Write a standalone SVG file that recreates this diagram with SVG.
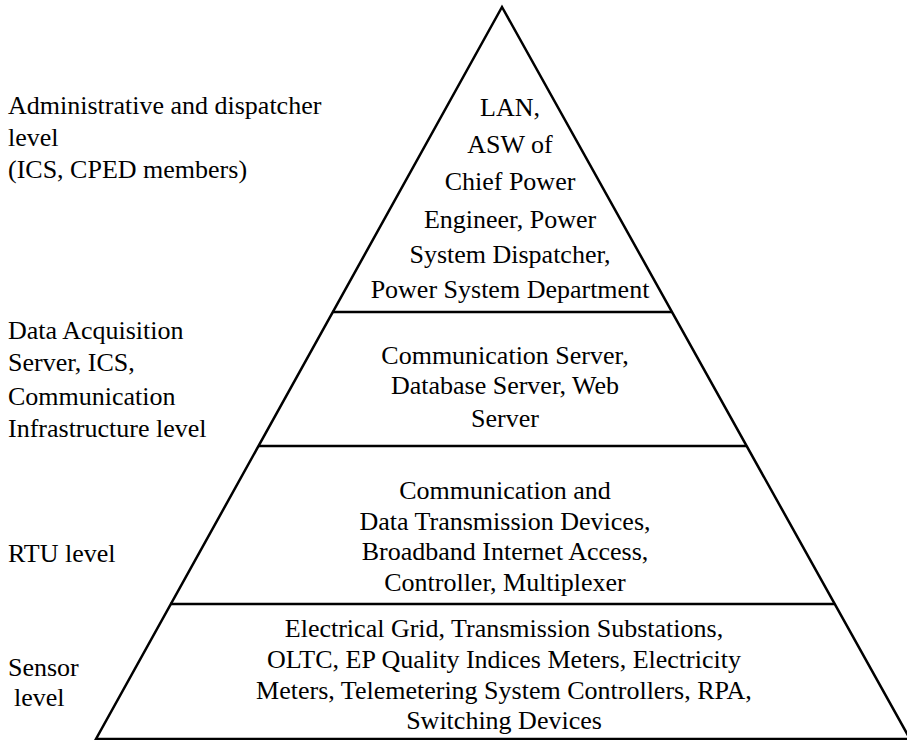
<svg xmlns="http://www.w3.org/2000/svg" width="907" height="740" viewBox="0 0 907 740">
  <rect width="907" height="740" fill="#fff"/>

  <!-- pyramid outline and tier dividers -->
  <g id="connectors" fill="none" stroke="#000" stroke-width="2.5">
    <polygon points="502,7 910,739 96,739"/>
    <line x1="332" y1="312" x2="672" y2="312"/>
    <line x1="258" y1="446" x2="746" y2="446"/>
    <line x1="170" y1="604" x2="834" y2="604"/>
  </g>

  <!-- tier 1: administrative and dispatcher -->
  <g id="tier-admin">
    <text x="8" y="114" font-family="Times New Roman" font-size="26">Administrative and dispatcher</text>
    <text x="8" y="146" font-family="Times New Roman" font-size="26">level</text>
    <text x="8" y="178" font-family="Times New Roman" font-size="26">(ICS, CPED members)</text>
    <text x="510" y="116" font-family="Times New Roman" font-size="26" text-anchor="middle">LAN,</text>
    <text x="510" y="153" font-family="Times New Roman" font-size="26" text-anchor="middle">ASW of</text>
    <text x="510" y="190" font-family="Times New Roman" font-size="26" text-anchor="middle">Chief Power</text>
    <text x="510" y="228" font-family="Times New Roman" font-size="26" text-anchor="middle">Engineer, Power</text>
    <text x="510" y="263" font-family="Times New Roman" font-size="26" text-anchor="middle">System Dispatcher,</text>
    <text x="510" y="298" font-family="Times New Roman" font-size="26" text-anchor="middle">Power System Department</text>
  </g>

  <!-- tier 2: data acquisition server -->
  <g id="tier-server">
    <text x="8" y="339" font-family="Times New Roman" font-size="26">Data Acquisition</text>
    <text x="8" y="371" font-family="Times New Roman" font-size="26">Server, ICS,</text>
    <text x="8" y="405" font-family="Times New Roman" font-size="26">Communication</text>
    <text x="8" y="437" font-family="Times New Roman" font-size="26">Infrastructure level</text>
    <text x="505" y="364" font-family="Times New Roman" font-size="26" text-anchor="middle">Communication Server,</text>
    <text x="505" y="394" font-family="Times New Roman" font-size="26" text-anchor="middle">Database Server, Web</text>
    <text x="505" y="427" font-family="Times New Roman" font-size="26" text-anchor="middle">Server</text>
  </g>

  <!-- tier 3: RTU -->
  <g id="tier-rtu">
    <text x="8" y="562" font-family="Times New Roman" font-size="26">RTU level</text>
    <text x="505" y="499" font-family="Times New Roman" font-size="26" text-anchor="middle">Communication and</text>
    <text x="505" y="530" font-family="Times New Roman" font-size="26" text-anchor="middle">Data Transmission Devices,</text>
    <text x="505" y="560" font-family="Times New Roman" font-size="26" text-anchor="middle">Broadband Internet Access,</text>
    <text x="505" y="591" font-family="Times New Roman" font-size="26" text-anchor="middle">Controller, Multiplexer</text>
  </g>

  <!-- tier 4: sensors -->
  <g id="tier-sensor">
    <text x="8" y="676" font-family="Times New Roman" font-size="26">Sensor</text>
    <text x="14" y="706" font-family="Times New Roman" font-size="26">level</text>
    <text x="504" y="637" font-family="Times New Roman" font-size="26" text-anchor="middle">Electrical Grid, Transmission Substations,</text>
    <text x="504" y="668" font-family="Times New Roman" font-size="26" text-anchor="middle">OLTC, EP Quality Indices Meters, Electricity</text>
    <text x="504" y="699" font-family="Times New Roman" font-size="26" text-anchor="middle">Meters, Telemetering System Controllers, RPA,</text>
    <text x="504" y="729" font-family="Times New Roman" font-size="26" text-anchor="middle">Switching Devices</text>
  </g>
</svg>
